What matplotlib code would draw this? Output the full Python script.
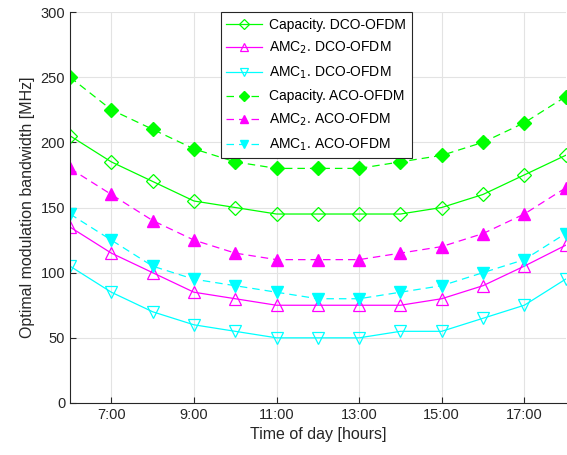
import matplotlib
matplotlib.use('Agg')
import matplotlib.pyplot as plt
import numpy as np

plt.rcParams['font.family'] = ['Liberation Sans', 'DejaVu Sans']

# hours of the day
hours = np.arange(6, 19)
tick_hours = [7, 9, 11, 13, 15, 17]
tick_labels = ['7:00', '9:00', '11:00', '13:00', '15:00', '17:00']

# optimal modulation bandwidth in MHz
cap_dco = [205, 185, 170, 155, 150, 145, 145, 145, 145, 150, 160, 175, 190]
amc2_dco = [135, 115, 100, 85, 80, 75, 75, 75, 75, 80, 90, 105, 121]
amc1_dco = [105, 85, 70, 60, 55, 50, 50, 50, 55, 55, 65, 75, 95]
cap_aco = [250, 225, 210, 195, 185, 180, 180, 180, 185, 190, 200, 215, 235]
amc2_aco = [180, 160, 140, 125, 115, 110, 110, 110, 115, 120, 130, 145, 165]
amc1_aco = [145, 125, 105, 95, 90, 85, 80, 80, 85, 90, 100, 110, 130]

green = '#00ff00'
magenta = '#ff00ff'
cyan = '#00ffff'

fig = plt.figure(figsize=(5.67, 4.55), dpi=100)
ax = fig.add_axes([0.1235, 0.1143, 0.874, 0.8593])

dash = (0, (6, 4))
ax.plot(hours, cap_dco, '-', color=green, lw=0.9, marker='D', ms=7, mfc='none', mew=0.9,
        label='Capacity. DCO-OFDM')
ax.plot(hours, amc2_dco, '-', color=magenta, lw=0.9, marker='^', ms=8, mfc='none', mew=0.9,
        label='AMC$_2$. DCO-OFDM')
ax.plot(hours, amc1_dco, '-', color=cyan, lw=0.9, marker='v', ms=8, mfc='none', mew=0.9,
        label='AMC$_1$. DCO-OFDM')
ax.plot(hours, cap_aco, linestyle=dash, color=green, lw=0.9, marker='D', ms=7,
        label='Capacity. ACO-OFDM')
ax.plot(hours, amc2_aco, linestyle=dash, color=magenta, lw=0.9, marker='^', ms=8,
        label='AMC$_2$. ACO-OFDM')
ax.plot(hours, amc1_aco, linestyle=dash, color=cyan, lw=0.9, marker='v', ms=8,
        label='AMC$_1$. ACO-OFDM')

ax.set_xlim(6, 18)
ax.set_ylim(0, 300)
ax.set_xticks(tick_hours)
ax.set_xticklabels(tick_labels)
ax.set_yticks(np.arange(0, 301, 50))
ax.tick_params(direction='in', labelsize=10.5, colors='#262626', length=4)
ax.grid(True, color='#e3e3e3', lw=0.8)
ax.set_axisbelow(True)
for s in ['top', 'right']:
    ax.spines[s].set_visible(False)
for s in ['left', 'bottom']:
    ax.spines[s].set_color('#262626')
    ax.spines[s].set_linewidth(0.8)

ax.set_xlabel('Time of day [hours]', fontsize=11.5, color='#262626')
ax.set_ylabel('Optimal modulation bandwidth [MHz]', fontsize=11.5, color='#262626')

leg = ax.legend(loc='upper center', bbox_to_anchor=(0.497, 1.0), fontsize=10,
                fancybox=False, framealpha=1, edgecolor='#262626', handlelength=2.6,
                labelspacing=0.6, borderpad=0.4, handletextpad=0.5, borderaxespad=0,
                markerscale=0.8)
leg.get_frame().set_linewidth(0.8)

fig.savefig('out.png', dpi=100)
